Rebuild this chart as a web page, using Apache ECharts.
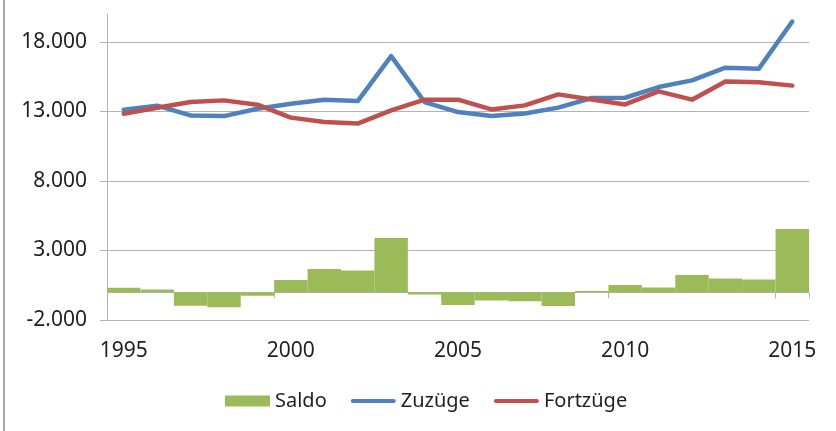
<!DOCTYPE html>
<html>
<head>
<meta charset="utf-8">
<script src="https://cdn.jsdelivr.net/npm/echarts@6/dist/echarts.min.js"></script>
<style>
  html, body { margin: 0; padding: 0; background: #fff; }
  #draw { width: 836px; height: 431px; }
</style>
</head>
<body>
<div id="draw"></div>
<script>
// Jahre und Werte
var years = ['1995', '1996', '1997', '1998', '1999', '2000', '2001', '2002', '2003', '2004',
	'2005', '2006', '2007', '2008', '2009', '2010', '2011', '2012', '2013', '2014', '2015'];
var saldo = [310, 200, -980, -1090, -260, 870, 1660, 1560, 3900, -160,
	-930, -590, -660, -1000, 80, 510, 340, 1230, 990, 920, 4550];
var zuzuege = [13120, 13410, 12710, 12660, 13190, 13550, 13840, 13740, 16970, 13670,
	12950, 12660, 12840, 13270, 13960, 13980, 14750, 15230, 16140, 16070, 19460];
var fortzuege = [12830, 13260, 13670, 13790, 13480, 12550, 12230, 12120, 13070, 13840,
	13840, 13140, 13430, 14220, 13860, 13500, 14440, 13840, 15150, 15090, 14850];
var yTicks = { min: -2000, max: 20000, interval: 5000 };

var myChart = echarts.init(document.getElementById('draw'));
var fontName = 'Noto Sans';
var gridColor = '#b3b3b3';
var textColor = '#1f1f1f';
// abgerundete Linie als Legendensymbol
var lineIcon = 'path://M2,0 L43,0 A2,2 0 0 1 43,4 L2,4 A2,2 0 0 1 2,0 Z';

var option = {
	animation: false,
	textStyle: { fontFamily: fontName },
	graphic: [{
		type: 'line',
		shape: { x1: 4, y1: 0, x2: 4, y2: 431 },
		style: { stroke: '#a6a6a6', lineWidth: 2 }
	}],
	grid: { left: 107, right: 27, top: 14, bottom: 111, containLabel: false },
	legend: {
		top: 386,
		left: 220,
		itemWidth: 45,
		itemHeight: 11,
		itemGap: 24,
		symbolKeepAspect: true,
		textStyle: { fontSize: 20, color: textColor, fontFamily: fontName },
		data: [
			{ name: 'Saldo', icon: 'rect' },
			{ name: 'Zuzüge', icon: lineIcon },
			{ name: 'Fortzüge', icon: lineIcon }
		]
	},
	xAxis: {
		type: 'category',
		data: years,
		boundaryGap: true,
		axisLine: { onZero: true, lineStyle: { color: gridColor, width: 1 } },
		axisTick: { show: true, interval: 4, length: 6, lineStyle: { color: gridColor } },
		axisLabel: { interval: 4, margin: 21, fontSize: 21, color: textColor, fontFamily: fontName },
		splitLine: { show: false }
	},
	yAxis: {
		type: 'value',
		min: yTicks.min,
		max: yTicks.max,
		interval: yTicks.interval,
		axisLine: { show: true, lineStyle: { color: gridColor, width: 1 } },
		axisTick: { show: true, length: 7, lineStyle: { color: gridColor } },
		axisLabel: {
			margin: 20, fontSize: 21, color: textColor, fontFamily: fontName,
			showMaxLabel: false,
			formatter: function (v) { return (v / 1000).toFixed(3); }
		},
		splitLine: { show: true, showMaxLine: false, lineStyle: { color: gridColor, width: 1 } }
	},
	series: [{
		name: 'Saldo',
		type: 'bar',
		data: saldo,
		barCategoryGap: '0%',
		itemStyle: { color: '#9bbb59' }
	}, {
		name: 'Zuzüge',
		type: 'line',
		data: zuzuege,
		symbol: 'none',
		lineStyle: { color: '#4f81bd', width: 4.5, cap: 'round', join: 'round' },
		itemStyle: { color: '#4f81bd' }
	}, {
		name: 'Fortzüge',
		type: 'line',
		data: fortzuege,
		symbol: 'none',
		lineStyle: { color: '#c0504d', width: 4.5, cap: 'round', join: 'round' },
		itemStyle: { color: '#c0504d' }
	}]
};
myChart.setOption(option);
</script>
</body>
</html>
